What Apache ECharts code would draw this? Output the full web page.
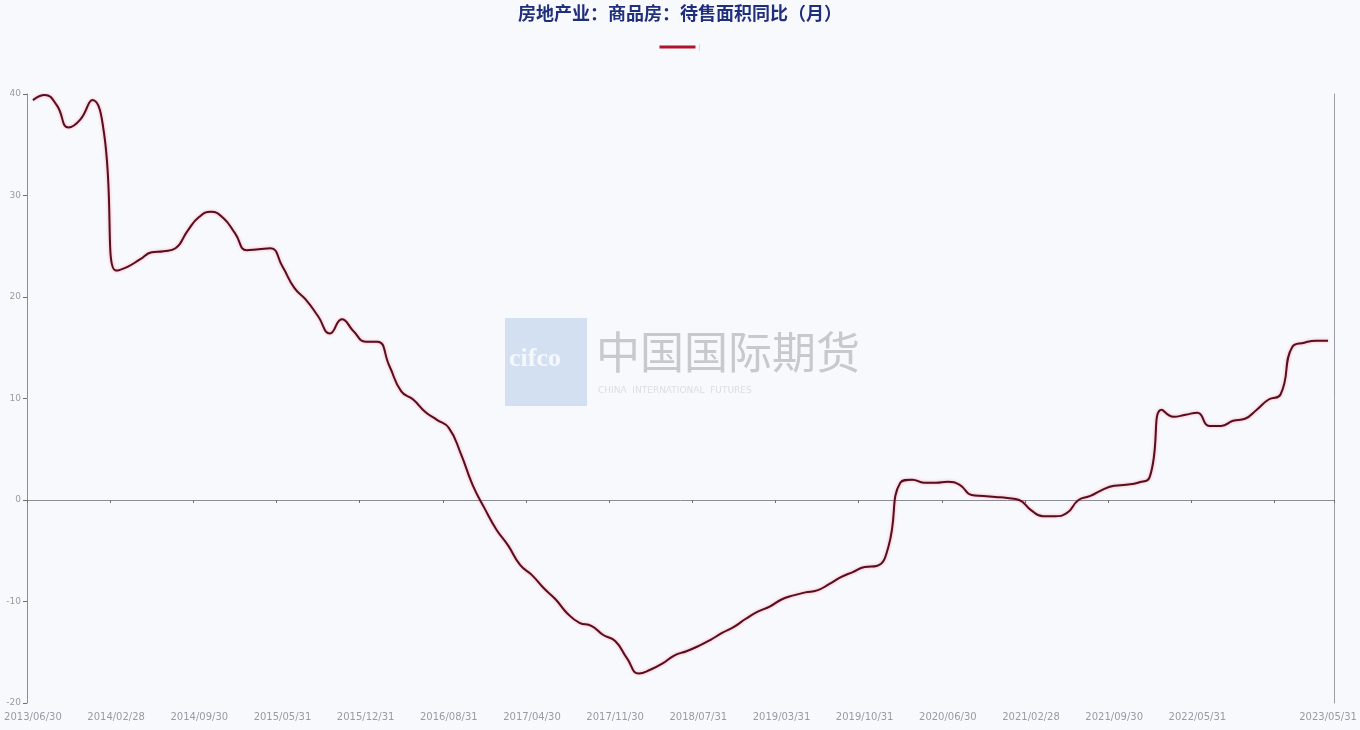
<!DOCTYPE html>
<html>
<head>
<meta charset="utf-8">
<script src="https://cdn.jsdelivr.net/npm/echarts@6/dist/echarts.min.js"></script>
<style>
html,body{margin:0;padding:0;background:#f8f9fd;}
#main{width:1360px;height:730px;}
</style>
</head>
<body>
<div id="main"></div>
<script>
// Month-end dates (NBS publishes Jan+Feb combined, so January is absent)
const dates2013 = ['2013/06/30','2013/07/31','2013/08/31','2013/09/30','2013/10/31','2013/11/30','2013/12/31'];
const dates2014 = ['2014/02/28','2014/03/31','2014/04/30','2014/05/31','2014/06/30','2014/07/31','2014/08/31','2014/09/30','2014/10/31','2014/11/30','2014/12/31'];
const dates2015 = ['2015/02/28','2015/03/31','2015/04/30','2015/05/31','2015/06/30','2015/07/31','2015/08/31','2015/09/30','2015/10/31','2015/11/30','2015/12/31'];
const dates2016 = ['2016/02/29','2016/03/31','2016/04/30','2016/05/31','2016/06/30','2016/07/31','2016/08/31','2016/09/30','2016/10/31','2016/11/30','2016/12/31'];
const dates2017 = ['2017/02/28','2017/03/31','2017/04/30','2017/05/31','2017/06/30','2017/07/31','2017/08/31','2017/09/30','2017/10/31','2017/11/30','2017/12/31'];
const dates2018 = ['2018/02/28','2018/03/31','2018/04/30','2018/05/31','2018/06/30','2018/07/31','2018/08/31','2018/09/30','2018/10/31','2018/11/30','2018/12/31'];
const dates2019 = ['2019/02/28','2019/03/31','2019/04/30','2019/05/31','2019/06/30','2019/07/31','2019/08/31','2019/09/30','2019/10/31','2019/11/30','2019/12/31'];
const dates2020 = ['2020/02/29','2020/03/31','2020/04/30','2020/05/31','2020/06/30','2020/07/31','2020/08/31','2020/09/30','2020/10/31','2020/11/30','2020/12/31'];
const dates2021 = ['2021/02/28','2021/03/31','2021/04/30','2021/05/31','2021/06/30','2021/07/31','2021/08/31','2021/09/30','2021/10/31','2021/11/30','2021/12/31'];
const dates2022 = ['2022/02/28','2022/03/31','2022/04/30','2022/05/31','2022/06/30','2022/07/31','2022/08/31','2022/09/30','2022/10/31','2022/11/30','2022/12/31'];
const dates2023 = ['2023/02/28','2023/03/31','2023/04/30','2023/05/31'];

// 待售面积同比 (%)
const values2013 = [39.4, 39.9, 38.9, 36.7, 37.5, 39.4, 36.0];
const values2014 = [22.6, 23.0, 23.7, 24.4, 24.5, 24.8, 26.5, 27.9, 28.4, 27.8, 26.3];
const values2015 = [24.6, 24.7, 24.8, 23.0, 20.9, 19.7, 18.1, 16.4, 17.8, 16.6, 15.6];
const values2016 = [15.6, 13.2, 10.7, 9.9, 8.7, 7.9, 7.1, 4.6, 1.5, -0.8, -2.9];
const values2017 = [-4.5, -6.4, -7.4, -8.7, -9.8, -11.2, -12.1, -12.4, -13.3, -13.9, -15.6];
const values2018 = [-17.1, -16.7, -16.1, -15.3, -14.9, -14.4, -13.8, -13.1, -12.5, -11.7, -11.0];
const values2019 = [-10.5, -9.8, -9.4, -9.1, -8.9, -8.3, -7.6, -7.1, -6.6, -6.5, -4.6];
const values2020 = [1.7, 2.0, 1.7, 1.7, 1.8, 1.5, 0.5, 0.4, 0.3, 0.2, 0.0];
const values2021 = [-1.0, -1.6, -1.6, -1.3, 0.0, 0.4, 1.0, 1.4, 1.5, 1.7, 2.3];
const values2022 = [8.9, 8.2, 8.4, 8.6, 7.3, 7.3, 7.8, 8.0, 8.9, 9.9, 10.4];
const values2023 = [15.1, 15.5, 15.7, 15.7];

const yTicks = [-20, -10, 0, 10, 20, 30, 40];
const titleText = '房地产业：商品房：待售面积同比（月）';
const seriesName = '|';

const categories = [].concat(dates2013, dates2014, dates2015, dates2016, dates2017, dates2018, dates2019, dates2020, dates2021, dates2022, dates2023);
const values = [].concat(values2013, values2014, values2015, values2016, values2017, values2018, values2019, values2020, values2021, values2022, values2023);
const lastIdx = categories.length - 1;

const chart = echarts.init(document.getElementById('main'), null, {renderer: 'canvas'});
const option = {
  backgroundColor: '#f8f9fd',
  animation: false,
  title: {
    text: titleText,
    left: 'center',
    top: -1,
    textStyle: {color: '#1f2f7c', fontSize: 18, fontWeight: 'bold', fontFamily: 'Noto Sans CJK SC'}
  },
  legend: {
    data: [seriesName],
    top: 38,
    left: 'center',
    icon: 'rect',
    itemWidth: 36,
    itemHeight: 3,
    itemGap: 4,
    textStyle: {color: '#c8c8d0', fontSize: 8, padding: [0,0,0,-2]}
  },
  graphic: [
    {type: 'rect', left: 505, top: 318, shape: {width: 82, height: 88}, style: {fill: '#d3e0f2'}, z: 0, silent: true},
    {type: 'text', left: 509, top: 346, style: {text: 'cifco', fill: '#f4f7fc', font: 'bold 26px "Liberation Serif"'}, z: 0, silent: true},
    {type: 'text', left: 596, top: 330, style: {text: '中国国际期货', fill: '#c9c9cc', font: '44px "Noto Sans CJK SC"'}, z: 0, silent: true},
    {type: 'text', left: 598, top: 386, style: {text: 'CHINA  INTERNATIONAL  FUTURES', fill: '#dcdde2', font: '9px "DejaVu Sans"', letterSpacing: 3}, z: 0, silent: true}
  ],
  grid: {left: 27, right: 26, top: 94, bottom: 27, containLabel: false},
  xAxis: [
    {
      type: 'category',
      data: categories,
      boundaryGap: true,
      position: 'bottom',
      axisLine: {show: false, onZero: false},
      axisTick: {show: false},
      axisLabel: {
        margin: 9,
        color: '#9a9aa4',
        fontSize: 10,
        fontFamily: 'DejaVu Sans',
        interval: function (i) { return (i % 7 === 0 && i !== 105) || i === lastIdx; },
        showMaxLabel: true
      },
      splitLine: {show: false}
    },
    {
      type: 'category',
      data: categories,
      boundaryGap: true,
      position: 'top',
      axisLine: {show: true, onZero: true, lineStyle: {color: '#8a8c96', width: 1}},
      axisTick: {show: true, inside: true, length: 3, interval: function (i) { return i % 7 === 0; }, lineStyle: {color: '#6a6c76'}},
      axisLabel: {show: false},
      splitLine: {show: false}
    }
  ],
  yAxis: [
    {
      type: 'value',
      min: -20, max: 40, interval: 10,
      position: 'left',
      axisLine: {show: true, lineStyle: {color: '#8a8c96'}},
      axisTick: {show: true, length: 4, lineStyle: {color: '#6a6c76'}},
      axisLabel: {color: '#9a9aa4', fontSize: 9, margin: 6, fontFamily: 'DejaVu Sans',
        formatter: function (v) { return yTicks.indexOf(v) >= 0 ? String(v) : ''; }},
      splitLine: {show: false}
    },
    {
      type: 'value',
      min: -20, max: 40, interval: 10,
      position: 'right',
      axisLine: {show: true, lineStyle: {color: '#9a9ca6'}},
      axisTick: {show: false},
      axisLabel: {show: false},
      splitLine: {show: false}
    }
  ],
  series: [
    {
      name: seriesName,
      type: 'line',
      xAxisIndex: 0,
      yAxisIndex: 0,
      data: values,
      smooth: 0.5,
      showSymbol: false,
      symbol: 'none',
      itemStyle: {color: '#b0142a'},
      lineStyle: {color: '#5a0d1e', width: 2, shadowColor: 'rgba(235,90,110,0.55)', shadowBlur: 3},
      z: 3
    }
  ]
};
chart.setOption(option);
</script>
</body>
</html>
